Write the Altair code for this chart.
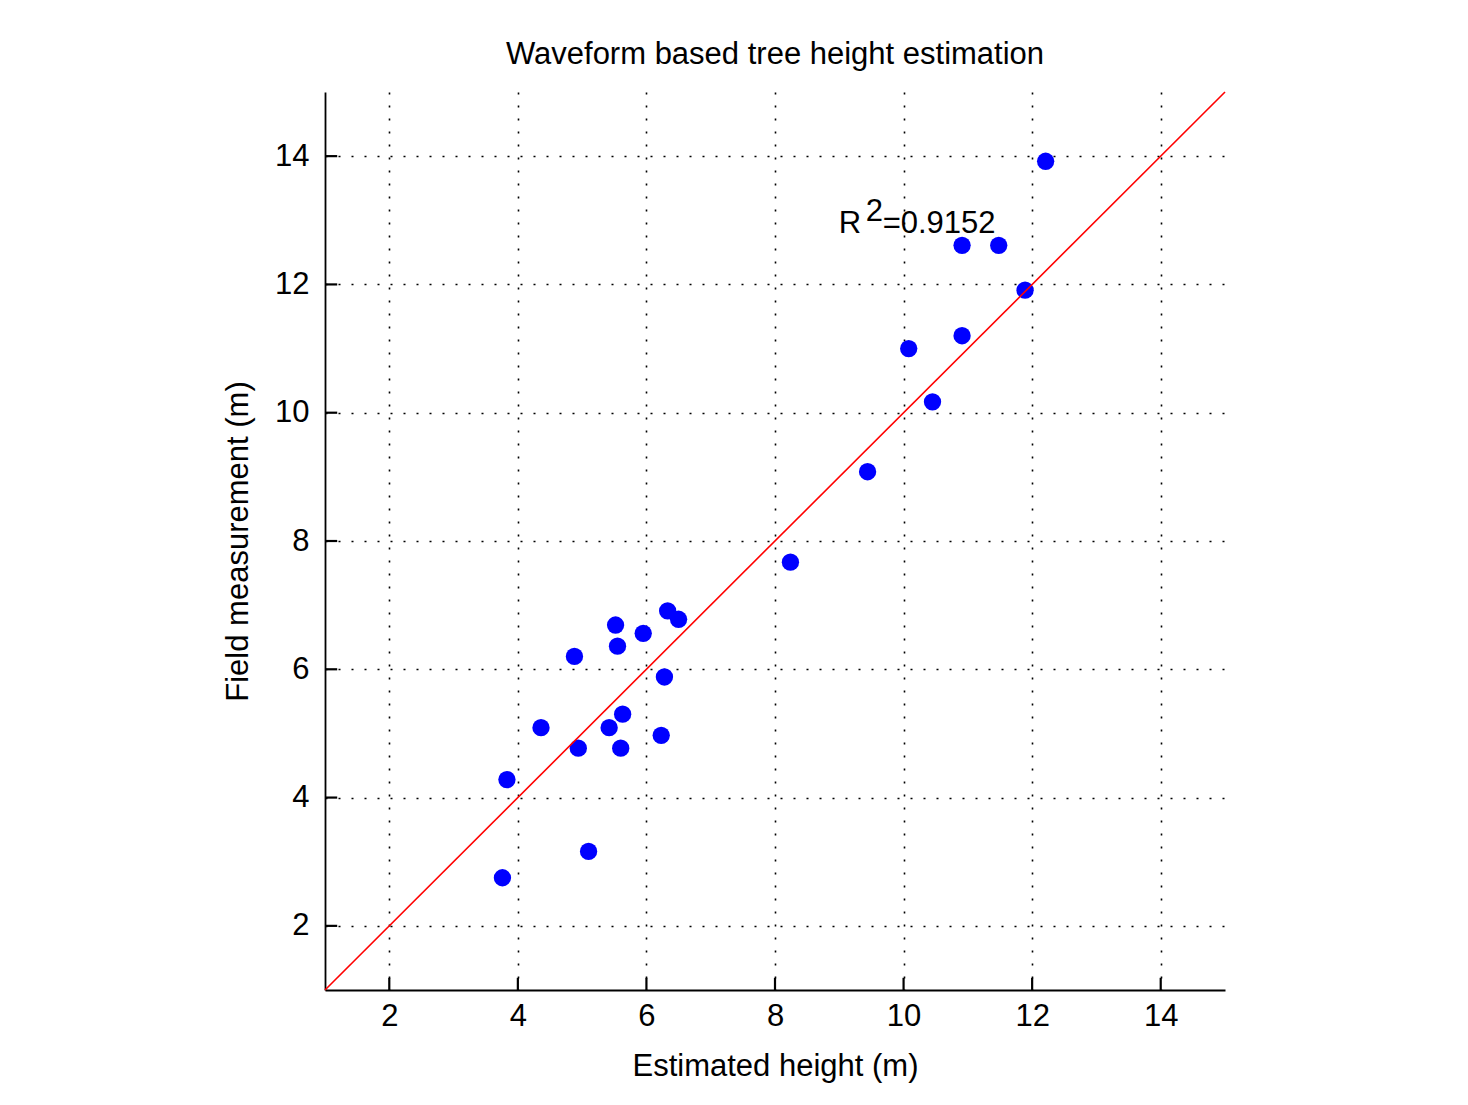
import altair as alt
import pandas as pd

# ---- data ----
est_height = [12.21, 10.91, 11.48, 11.89, 10.91, 10.08, 10.45, 9.44, 8.24,
              6.33, 6.50, 5.52, 5.95, 5.55, 4.88, 6.28, 5.63, 4.36, 5.42,
              6.23, 4.94, 5.60, 3.83, 5.10, 3.76]
field_meas = [13.92, 12.61, 12.61, 11.91, 11.20, 11.00, 10.17, 9.08, 7.67,
              6.91, 6.78, 6.69, 6.56, 6.36, 6.20, 5.88, 5.30, 5.09, 5.09,
              4.97, 4.77, 4.77, 4.28, 3.16, 2.75]
tick_values = [2, 4, 6, 8, 10, 12, 14]
fit_x = [1, 15]
fit_y = [1, 15]
r2_value = "=0.9152"
r2_pos = (8.99, 12.80)
chart_title = "Waveform based tree height estimation"
x_title = "Estimated height (m)"
y_title = "Field measurement (m)"

FONT = "Liberation Sans"
FS = 31
TICK_LEN = 0.19
axis_min = 1.0

pts = pd.DataFrame({"est": est_height, "field": field_meas})
fit = pd.DataFrame({"est": fit_x, "field": fit_y})
ticks_df = pd.DataFrame({"t": [float(v) for v in tick_values],
                         "a0": [axis_min] * len(tick_values),
                         "a1": [axis_min + TICK_LEN] * len(tick_values)})

xs = alt.Scale(domain=[1, 15], nice=False, zero=False)
ys = alt.Scale(domain=[1, 15], nice=False, zero=False)

common_axis = dict(values=tick_values, format="d", grid=True, gridColor="black",
                   gridDash=[2, 11], gridWidth=1.6, domainColor="black",
                   domainWidth=1.8, tickSize=0, labelFontSize=FS, labelFont=FONT,
                   labelColor="black", titleFontSize=FS, titleFont=FONT,
                   titleColor="black", titleFontWeight="normal")

xax = alt.Axis(title=x_title, labelPadding=11, titlePadding=20, **common_axis)
yax = alt.Axis(title=y_title, labelPadding=16, titlePadding=20, **common_axis)

points = alt.Chart(pts).mark_circle(size=300, color="#0000ff", opacity=1).encode(
    x=alt.X("est:Q", scale=xs, axis=xax),
    y=alt.Y("field:Q", scale=ys, axis=yax),
)

line = alt.Chart(fit).mark_line(color="#ff0000", strokeWidth=1.6).encode(
    x=alt.X("est:Q", scale=xs),
    y=alt.Y("field:Q", scale=ys),
)

xticks = alt.Chart(ticks_df).mark_rule(color="black", strokeWidth=2.2).encode(
    x=alt.X("t:Q", scale=xs, axis=xax),
    y=alt.Y("a0:Q", scale=ys, axis=yax),
    y2=alt.Y2("a1"),
)
yticks = alt.Chart(ticks_df).mark_rule(color="black", strokeWidth=2.2).encode(
    x=alt.X("a0:Q", scale=xs, axis=xax),
    x2=alt.X2("a1"),
    y=alt.Y("t:Q", scale=ys, axis=yax),
)

ann = pd.DataFrame({"x": [r2_pos[0]], "y": [r2_pos[1]]})
r_txt = alt.Chart(ann).mark_text(text="R", font=FONT, fontSize=FS, align="left",
                                 baseline="alphabetic", color="black").encode(
    x=alt.X("x:Q", scale=xs), y=alt.Y("y:Q", scale=ys))
sup_txt = alt.Chart(ann).mark_text(text="2", font=FONT, fontSize=FS, align="left",
                                   baseline="alphabetic", color="black", dx=27, dy=-12).encode(
    x=alt.X("x:Q", scale=xs), y=alt.Y("y:Q", scale=ys))
val_txt = alt.Chart(ann).mark_text(text=r2_value, font=FONT, fontSize=FS, align="left",
                                   baseline="alphabetic", color="black", dx=44).encode(
    x=alt.X("x:Q", scale=xs), y=alt.Y("y:Q", scale=ys))

chart = alt.layer(points, xticks, yticks, line, r_txt, sup_txt, val_txt).properties(
    width=900, height=898,
    title=alt.TitleParams(chart_title, font=FONT, fontSize=FS, fontWeight="normal",
                          color="black", anchor="middle", offset=18),
    autosize=alt.AutoSizeParams(type="none"),
    padding={"left": 325, "top": 92, "right": 243, "bottom": 115},
).configure(background="white").configure_view(stroke=None)

chart.save("out.html", embed_options={"renderer": "svg", "actions": False})
